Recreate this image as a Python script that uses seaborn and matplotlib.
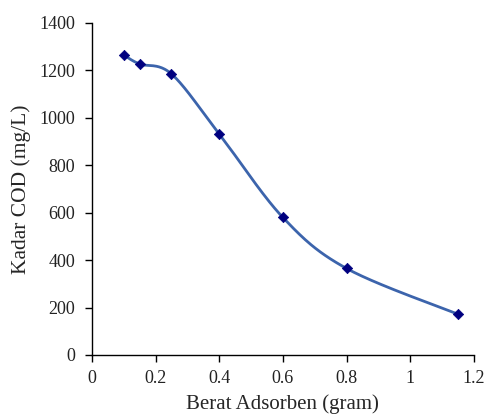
import numpy as np
import pandas as pd
import matplotlib
matplotlib.use("Agg")
import matplotlib.pyplot as plt
import seaborn as sns

# values
berat = [0.10, 0.15, 0.25, 0.40, 0.60, 0.80, 1.15]
cod = [1265, 1227, 1185, 932, 580, 365, 172]

sns.set_style("ticks")
plt.rcParams["font.family"] = ["Liberation Serif", "DejaVu Serif"]


def excel_smooth(x, y, sx, sy, n=40):
    # Bezier smoothing like a spreadsheet "smoothed line", done in screen scale
    p = np.column_stack([np.asarray(x) * sx, np.asarray(y) * sy])
    p = np.vstack([p[0], p, p[-1]])
    out = []
    for i in range(1, len(p) - 2):
        p0, p1, p2, p3 = p[i - 1], p[i], p[i + 1], p[i + 2]
        c1 = p1 + (p2 - p0) / 6
        c2 = p2 - (p3 - p1) / 6
        t = np.linspace(0, 1, n)[:, None]
        seg = ((1 - t) ** 3) * p1 + 3 * ((1 - t) ** 2) * t * c1 + 3 * (1 - t) * t ** 2 * c2 + t ** 3 * p2
        out.append(seg if i == 1 else seg[1:])
    out = np.vstack(out)
    return out[:, 0] / sx, out[:, 1] / sy


sx_, sy_ = excel_smooth(berat, cod, 382 / 1.2, 332 / 1400)
curve = pd.DataFrame({"x": sx_, "y": sy_})
pts = pd.DataFrame({"Berat Adsorben (gram)": berat, "Kadar COD (mg/L)": cod})

fig = plt.figure(figsize=(4.89, 4.15), dpi=100)
ax = fig.add_axes([0.188, 0.1446, 0.781, 0.8])

sns.lineplot(data=curve, x="x", y="y", sort=False, color="#3C64AC", linewidth=2.0, ax=ax)
sns.scatterplot(data=pts, x="Berat Adsorben (gram)", y="Kadar COD (mg/L)", marker="D",
                s=28, color="#00007F", edgecolor="#00007F", linewidth=0.5, zorder=3, ax=ax)

ax.set_xlim(0, 1.2)
ax.set_ylim(0, 1400)
ax.set_xticks([0, 0.2, 0.4, 0.6, 0.8, 1.0, 1.2])
ax.set_xticklabels(["0", "0.2", "0.4", "0.6", "0.8", "1", "1.2"])
ax.set_yticks(range(0, 1401, 200))
ax.tick_params(labelsize=13, length=5, width=1, color="black", labelcolor="#222222")
ax.tick_params(axis="y", pad=7)
ax.tick_params(axis="x", pad=6)
ax.set_xlabel("Berat Adsorben (gram)", fontsize=15, labelpad=5)
ax.set_ylabel("Kadar COD (mg/L)", fontsize=15.5, labelpad=6)
for s in ["left", "bottom"]:
    ax.spines[s].set_color("black")
    ax.spines[s].set_linewidth(1)
sns.despine(ax=ax)

plt.savefig("out.png", dpi=100)
